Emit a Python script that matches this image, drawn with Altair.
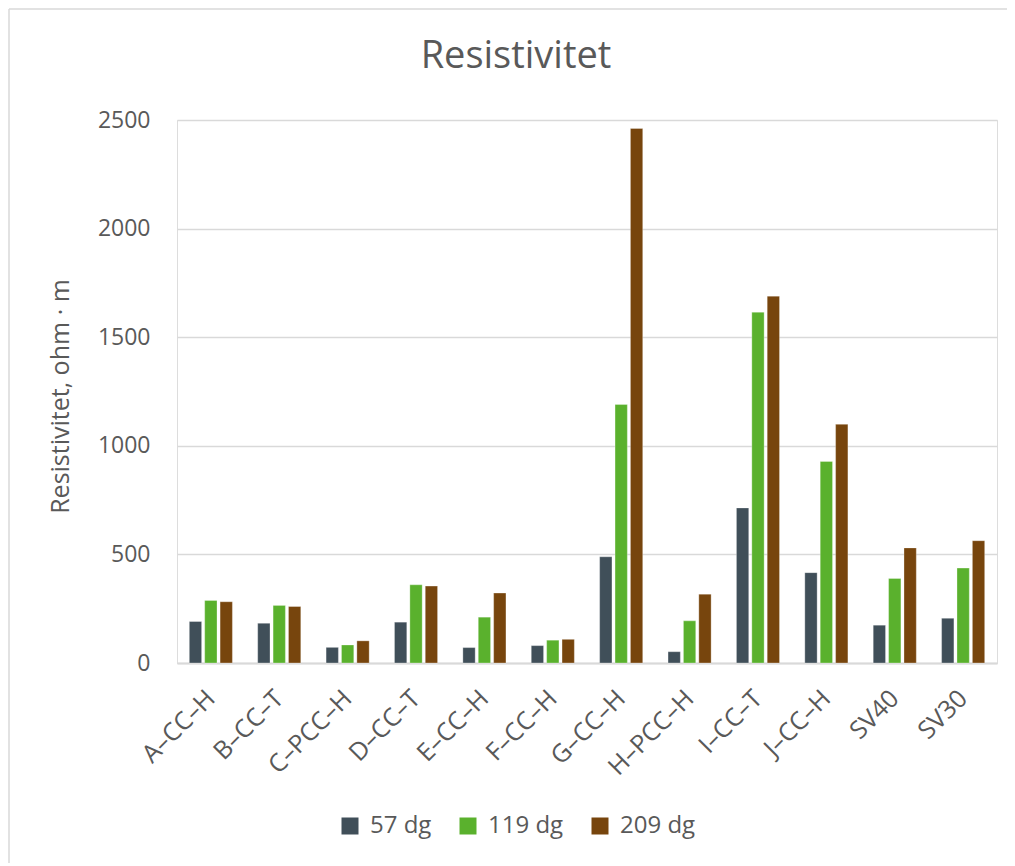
import altair as alt
import pandas as pd

categories = ["A–CC–H", "B–CC–T", "C–PCC–H", "D–CC–T", "E–CC–H", "F–CC–H",
              "G–CC–H", "H–PCC–H", "I–CC–T", "J–CC–H", "SV40", "SV30"]
series = ["57 dg", "119 dg", "209 dg"]
v57 = [191, 183, 72, 188, 71, 80, 489, 52, 714, 416, 174, 206]
v119 = [288, 265, 83, 360, 211, 105, 1190, 194, 1615, 928, 389, 437]
v209 = [282, 260, 102, 354, 322, 109, 2461, 317, 1689, 1099, 530, 563]
colors = ["#404F59", "#5AB12D", "#77450D"]
title_text = "Resistivitet"
y_title = "Resistivitet, ohm · m"

rows = []
for s, vals in zip(series, [v57, v119, v209]):
    for c, v in zip(categories, vals):
        rows.append({"Kategori": c, "Serie": s, "Verdi": v})
df = pd.DataFrame(rows)

FONT = "Open Sans"
GREY = "#595959"

bars = alt.Chart(df).mark_bar(stroke="white", strokeWidth=0.6, strokeOpacity=0.5).encode(
    x=alt.X("Kategori:N", sort=categories,
            scale=alt.Scale(paddingInner=0.37, paddingOuter=0.18),
            axis=alt.Axis(title=None, labelAngle=-45, labelAlign="right",
                          labelBaseline="middle", labelFontSize=25, labelColor=GREY,
                          labelFont=FONT, ticks=False, domainColor="#d9d9d9",
                          domainWidth=2, labelPadding=31)),
    xOffset=alt.XOffset("Serie:N", sort=series, scale=alt.Scale(paddingInner=0.2)),
    y=alt.Y("Verdi:Q", scale=alt.Scale(domain=[0, 2500], nice=False),
            axis=alt.Axis(title=y_title, values=[0, 500, 1000, 1500, 2000, 2500],
                          format="d",
                          titleFontSize=25, titleFont=FONT, titleColor=GREY,
                          titleFontWeight="normal", titlePadding=24, titleY=276,
                          labelFontSize=23, labelFont=FONT, labelColor=GREY,
                          labelPadding=27, ticks=False, domain=False,
                          gridColor="#d9d9d9", gridWidth=1.5)),
    color=alt.Color("Serie:N", sort=series,
                    scale=alt.Scale(domain=series, range=colors),
                    legend=alt.Legend(title=None, orient="none", direction="horizontal",
                                      legendX=161, legendY=694,
                                      symbolType="square", symbolSize=289,
                                      symbolStrokeWidth=0, labelFontSize=24,
                                      labelFont=FONT, labelColor=GREY,
                                      columnPadding=24, labelOffset=8)),
)

one = pd.DataFrame({"a": [0]})
border_top = alt.Chart(one).mark_rule(color="#d9d9d9", strokeWidth=1.5).encode(
    x=alt.value(-168), x2=alt.value(830), y=alt.value(-111), y2=alt.value(-111))
border_left = alt.Chart(one).mark_rule(color="#d9d9d9", strokeWidth=1.5).encode(
    x=alt.value(-168), x2=alt.value(-168), y=alt.value(-111), y2=alt.value(743))

title = alt.Chart(pd.DataFrame({"t": [title_text]})).mark_text(
    font=FONT, fontSize=38, color=GREY, align="center", baseline="middle"
).encode(text="t:N", x=alt.value(339), y=alt.value(-63))

chart = alt.layer(border_top, border_left, bars, title).properties(
    width=820, height=543,
    autosize=alt.AutoSizeParams(type="none"),
    padding={"left": 169, "top": 112, "right": 10, "bottom": 200},
).configure_view(stroke=None).configure(background="white")

chart.save("out.html", embed_options={"renderer": "svg", "actions": False})
